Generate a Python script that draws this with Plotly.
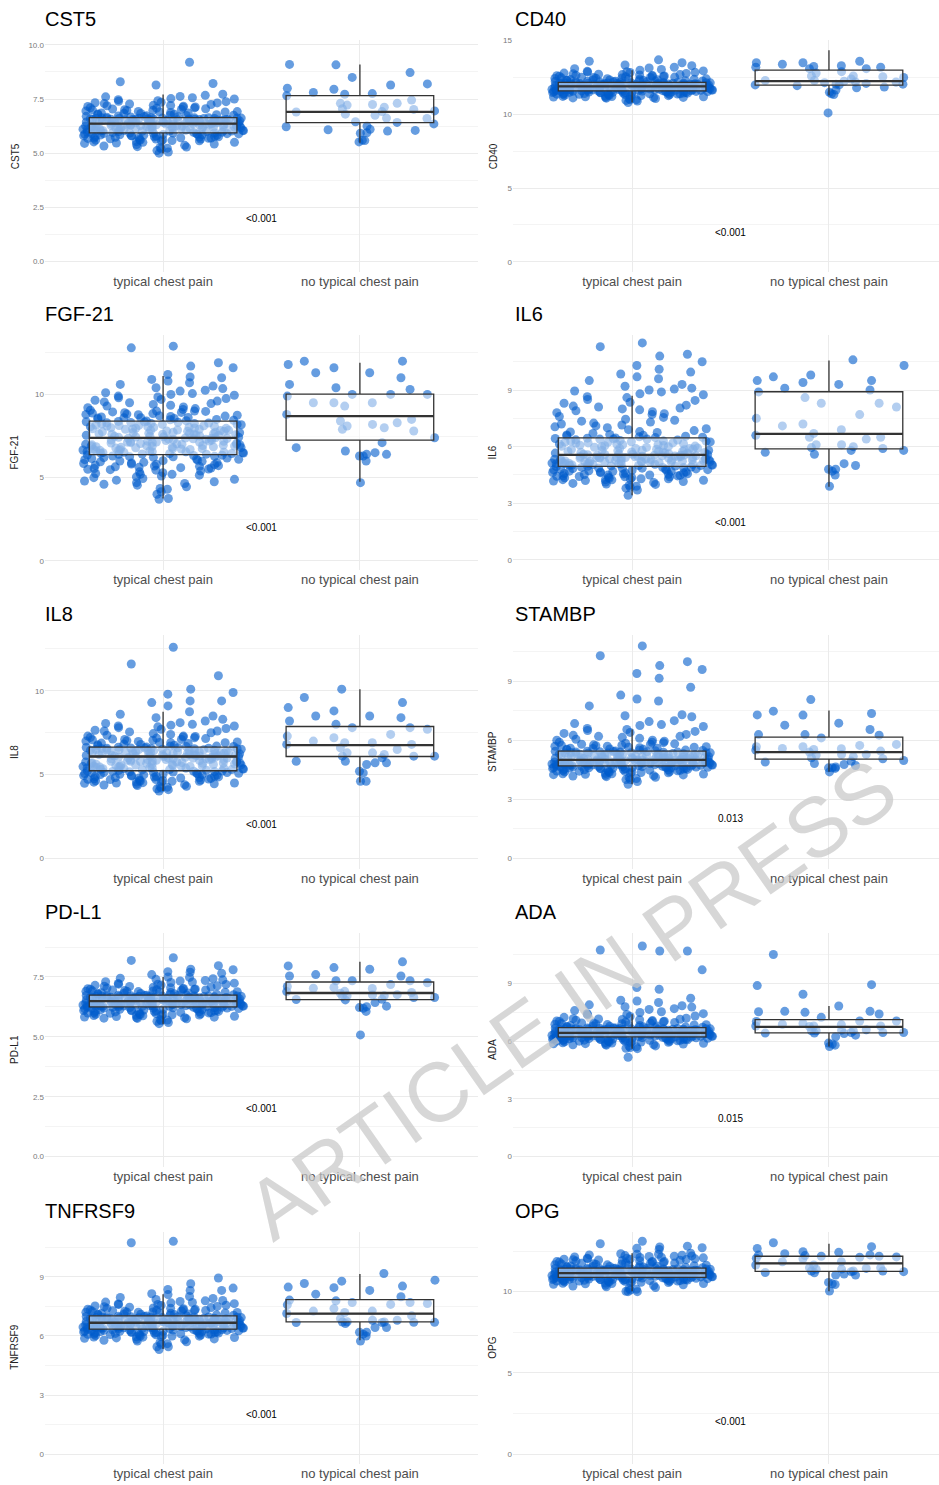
import plotly.graph_objects as go

CATS = ["typical chest pain", "no typical chest pain"]
MARKERS = ["CST5", "CD40", "FGF-21", "IL6", "IL8", "STAMBP", "PD-L1", "ADA", "TNFRSF9", "OPG"]
P_VALUES = ["<0.001", "<0.001", "<0.001", "<0.001", "<0.001", "0.013", "<0.001", "0.015", "<0.001", "<0.001"]

CST5_TYPICAL = [
    5.0, 5.05, 5.2, 5.23, 5.28, 5.3, 5.36, 5.4, 5.42, 5.47, 5.5, 5.53, 5.56, 5.58, 5.6, 5.63, 5.66, 5.68, 5.7, 5.72,
    5.74, 5.77, 5.78, 5.8, 5.82, 5.84, 5.86, 5.88, 5.9, 5.91, 5.93, 5.94,
    5.96, 5.98, 6.0, 6.02, 6.04, 6.05, 6.07, 6.09, 6.1, 6.12, 6.14, 6.15, 6.17, 6.19, 6.2, 6.22, 6.23, 6.25, 6.26, 6.28,
    6.29, 6.3, 6.32, 6.33, 6.34, 6.35, 6.36, 6.37, 6.38, 6.39, 6.4, 6.41, 6.42, 6.43, 6.44, 6.45, 6.46, 6.47, 6.48, 6.49,
    6.5, 6.51, 6.52, 6.53, 6.54, 6.55, 6.56, 6.57, 6.58, 6.58, 6.59, 6.6, 6.6, 6.61, 6.62, 6.62, 6.63, 6.64, 6.11, 6.27,
    6.31, 6.45, 6.5, 6.55, 6.2, 6.38,
    6.66, 6.69, 6.72, 6.75, 6.78, 6.81, 6.85, 6.88, 6.91, 6.95, 6.98, 7.02, 7.05, 7.09, 7.13, 7.17, 7.2, 7.25, 7.29, 7.33,
    7.38, 7.42, 7.47, 7.52, 7.56, 7.62, 7.67, 7.72, 8.15, 8.22, 8.3, 9.2,
    5.12, 5.26, 5.33, 5.45, 5.52, 5.57, 5.62, 5.65, 5.69, 5.71, 5.73, 5.76, 5.79, 5.81, 5.83, 5.85, 5.87, 5.89, 5.9,
    5.92, 5.93, 5.95, 5.6, 5.75, 5.5, 5.85, 5.7, 5.8, 5.9, 5.65,
    5.97, 6.01, 6.03, 6.06, 6.08, 6.11, 6.13, 6.16, 6.18, 6.21, 6.24, 6.27, 6.3, 6.33, 6.36, 6.39, 6.42, 6.45, 6.48,
    6.51, 6.54, 6.57, 6.6, 6.63, 6.0, 6.05, 6.1, 6.15, 6.2, 6.25, 6.3, 6.35, 6.4, 6.45, 6.5, 6.55, 6.6, 6.62, 6.02,
    6.08, 6.14, 6.22, 6.28, 6.34, 6.4, 6.46, 6.52, 6.58, 6.64, 6.04, 6.16, 6.26, 6.36, 6.44, 6.54, 6.61, 6.19, 6.31,
    6.43, 6.56,
    6.67, 6.7, 6.73, 6.76, 6.8, 6.83, 6.86, 6.9, 6.93, 6.97, 7.0, 7.04, 7.08, 7.12, 7.16, 7.21, 7.27, 7.32, 7.4, 7.5,
    6.68, 6.74, 6.79, 6.84, 6.92, 7.01, 7.1, 7.19, 7.35, 7.6]
CST5_NO_TYPICAL = [
    8.2, 9.08, 7.72, 7.75, 7.65, 7.02, 6.1, 6.02, 5.92, 5.94, 6.08, 5.6, 6.9, 6.95, 6.62, 7.05, 6.75, 6.45, 7.95, 8.15,
    7.25, 7.45, 6.22, 6.42, 6.25, 7.3, 7.3, 7.22, 7.12, 7.8, 6.6, 6.35, 6.05, 5.52, 5.58, 8.72, 8.5, 8.0, 9.1, 6.92, 6.8]

CD40_TYPICAL = [
    10.8, 10.9, 10.95, 11.0, 11.05, 11.1, 11.12, 11.15, 11.18, 11.2, 11.22, 11.25, 11.27, 11.3, 11.32, 11.34, 11.36,
    11.38, 11.4, 11.42, 11.44, 11.45, 11.47, 11.48, 11.5, 11.52, 11.53, 11.55, 11.56, 11.57, 11.58, 11.6,
    11.61, 11.62, 11.63, 11.64, 11.65, 11.66, 11.67, 11.68, 11.69, 11.7, 11.71, 11.72, 11.73, 11.74, 11.75, 11.76, 11.77,
    11.78, 11.79, 11.8, 11.81, 11.82, 11.83, 11.84, 11.85, 11.86, 11.87, 11.88, 11.89, 11.9, 11.9, 11.91, 11.92, 11.93,
    11.94, 11.95, 11.96, 11.97, 11.98, 11.99, 12.0, 12.01, 12.02, 12.03, 12.04, 12.05, 12.06, 12.07, 12.08, 12.09, 12.1,
    12.11, 12.12, 12.13, 12.14, 12.15, 12.16, 12.17, 11.7, 11.8, 11.85, 11.95, 12.0, 12.05, 11.65, 12.1,
    12.19, 12.21, 12.23, 12.25, 12.28, 12.3, 12.32, 12.35, 12.38, 12.4, 12.43, 12.46, 12.5, 12.53, 12.57, 12.6, 12.63,
    12.67, 12.7, 12.75, 12.8, 12.85, 12.9, 12.95, 13.0, 13.1, 13.2, 13.3, 13.35, 13.5, 13.6, 13.7,
    11.08, 11.14, 11.21, 11.28, 11.33, 11.37, 11.41, 11.43, 11.46, 11.49, 11.51, 11.54, 11.56, 11.58, 11.59, 11.2,
    11.3, 11.4, 11.45, 11.5, 11.55, 11.35, 11.25, 11.48, 11.52, 11.57, 11.44, 11.38, 11.0, 11.15,
    11.62, 11.64, 11.66, 11.68, 11.7, 11.72, 11.74, 11.76, 11.78, 11.8, 11.82, 11.84, 11.86, 11.88, 11.9, 11.92,
    11.94, 11.96, 11.98, 12.0, 12.02, 12.04, 12.06, 12.08, 12.1, 12.12, 12.14, 12.16, 11.63, 11.67, 11.71, 11.75,
    11.79, 11.83, 11.87, 11.91, 11.95, 11.99, 12.03, 12.07, 12.11, 12.15, 11.65, 11.73, 11.81, 11.89, 11.97, 12.05,
    12.13, 11.69, 11.77, 11.85, 11.93, 12.01, 12.09, 11.61, 11.9, 12.0, 11.8, 11.7,
    12.2, 12.22, 12.24, 12.27, 12.29, 12.31, 12.34, 12.36, 12.39, 12.42, 12.45, 12.48, 12.52, 12.55, 12.58, 12.62,
    12.66, 12.72, 12.78, 12.84, 12.92, 13.05, 13.15, 12.26, 12.33, 12.41, 12.5, 12.6, 12.7, 12.88]
CD40_NO_TYPICAL = [
    12.8, 10.1, 12.5, 12.6, 12.2, 12.3, 11.85, 11.8, 12.0, 12.1, 11.65, 11.5, 11.4, 11.95, 13.1, 13.2, 12.9, 11.35,
    12.25, 12.55, 12.05, 13.6, 13.5, 13.3, 12.6, 12.3, 12.2, 13.4, 13.25, 13.5, 13.1, 12.4, 12.05, 12.0, 13.2, 12.15]

FGF21_TYPICAL = [
    3.7, 3.75, 4.0, 4.15, 4.35, 4.45, 4.6, 4.65, 4.7, 4.8, 4.9, 5.0, 5.1, 5.2, 5.25, 5.35, 5.45, 5.5, 5.55, 5.6, 5.65,
    5.7, 5.75, 5.8, 5.85, 5.9, 5.95, 6.0, 6.05, 6.1, 6.15, 6.2, 6.25, 6.3, 6.35,
    6.4, 6.42, 6.45, 6.48, 6.5, 6.53, 6.56, 6.6, 6.63, 6.66, 6.7, 6.72, 6.75, 6.78, 6.8, 6.83, 6.86, 6.9, 6.93, 6.96,
    7.0, 7.03, 7.06, 7.1, 7.13, 7.16, 7.2, 7.23, 7.26, 7.3, 7.33, 7.36, 7.38, 7.4, 7.42, 7.45, 7.48, 7.5, 7.53, 7.56,
    7.6, 7.63, 7.66, 7.7, 7.72, 7.75, 7.78, 7.8, 7.83, 7.86, 7.9, 7.93, 7.96, 8.0, 8.03, 8.06, 8.1, 8.13, 8.16, 8.2,
    8.23, 8.26, 8.3, 8.33, 8.36, 8.4, 7.1, 7.6, 6.9, 8.05,
    8.45, 8.5, 8.55, 8.6, 8.65, 8.7, 8.75, 8.8, 8.85, 8.9, 8.95, 9.0, 9.1, 9.2, 9.3, 9.4, 9.5, 9.6, 9.7, 9.8, 9.9,
    10.0, 10.1, 10.25, 10.4, 10.5, 10.7, 10.9, 11.0, 11.2, 11.6, 11.7, 11.9, 12.8, 12.9,
    4.3, 4.55, 4.75, 4.95, 5.05, 5.15, 5.3, 5.4, 5.48, 5.58, 5.68, 5.78, 5.88, 5.98, 6.08, 6.18, 6.28, 6.33, 5.2,
    5.62, 5.92, 6.12, 6.22, 4.85, 5.72, 6.02, 6.26, 5.52, 5.82, 6.36,
    6.41, 6.47, 6.52, 6.58, 6.64, 6.69, 6.74, 6.79, 6.85, 6.91, 6.97, 7.02, 7.08, 7.14, 7.19, 7.25, 7.31, 7.37, 7.43,
    7.49, 7.55, 7.61, 7.67, 7.73, 7.79, 7.85, 7.91, 7.97, 8.02, 8.08, 8.14, 8.2, 8.26, 8.32, 8.38, 6.44, 6.55, 6.68,
    6.82, 6.95, 7.05, 7.18, 7.28, 7.44, 7.58, 7.7, 7.84, 7.98, 8.12, 8.28, 6.62, 6.88, 7.12, 7.35, 7.64, 7.92, 8.18,
    8.35, 6.5, 7.0,
    8.42, 8.48, 8.52, 8.58, 8.62, 8.68, 8.72, 8.78, 8.82, 8.88, 8.92, 8.98, 9.05, 9.15, 9.25, 9.35, 9.45, 9.55, 9.65,
    9.75, 9.85, 9.95, 10.05, 10.2, 10.35, 10.6, 10.8, 11.05, 8.6, 9.0]
FGF21_NO_TYPICAL = [
    11.3, 11.6, 9.5, 10.3, 8.8, 8.1, 7.4, 6.4, 6.3, 6.6, 11.8, 11.3, 10.4, 10.6, 10.0, 9.5, 7.1, 8.2, 7.8, 6.5, 9.9,
    11.0, 9.5, 8.3, 6.4, 12.0, 12.0, 9.3, 8.4, 6.0, 4.7, 8.0, 10.0, 8.5, 6.8, 6.3, 10.0, 7.9]

IL6_TYPICAL = [
    3.42, 3.7, 3.8, 3.85, 3.95, 4.0, 4.05, 4.1, 4.15, 4.2, 4.22, 4.25, 4.28, 4.3, 4.35, 4.38, 4.4, 4.43, 4.46, 4.5,
    4.52, 4.55, 4.58, 4.6, 4.63, 4.66, 4.7, 4.72, 4.75, 4.78, 4.8, 4.84, 4.87, 4.9, 4.94,
    4.96, 4.98, 5.0, 5.02, 5.04, 5.06, 5.08, 5.1, 5.12, 5.14, 5.16, 5.18, 5.2, 5.22, 5.24, 5.26, 5.28, 5.3, 5.32, 5.34,
    5.36, 5.38, 5.4, 5.42, 5.44, 5.46, 5.48, 5.5, 5.52, 5.54, 5.56, 5.58, 5.6, 5.63, 5.66, 5.69, 5.72, 5.75, 5.78, 5.81,
    5.84, 5.87, 5.9, 5.93, 5.96, 6.0, 6.03, 6.06, 6.1, 6.13, 6.16, 6.2, 6.23, 6.26, 6.3, 6.33, 6.36, 6.4, 6.43, 6.46,
    5.05, 5.25, 5.45, 5.65, 5.85, 6.05, 6.25, 5.15, 5.35, 5.55,
    6.5, 6.55, 6.6, 6.7, 6.8, 6.9, 7.0, 7.1, 7.2, 7.3, 7.45, 7.6, 7.75, 7.9, 8.0, 8.1, 8.2, 8.35, 8.5, 8.65, 8.8, 8.9,
    9.0, 9.1, 9.2, 9.5, 9.7, 9.95, 10.1, 10.3, 10.5, 10.8, 10.9, 11.3, 11.5,
    3.9, 4.02, 4.12, 4.18, 4.24, 4.32, 4.36, 4.42, 4.48, 4.54, 4.56, 4.62, 4.65, 4.68, 4.74, 4.77, 4.82, 4.86, 4.89,
    4.92, 4.3, 4.4, 4.5, 4.6, 4.7, 4.8, 4.9, 4.25, 4.45, 4.85,
    4.97, 5.01, 5.03, 5.07, 5.09, 5.11, 5.13, 5.17, 5.19, 5.21, 5.23, 5.27, 5.29, 5.31, 5.33, 5.37, 5.39, 5.41, 5.43,
    5.47, 5.49, 5.51, 5.53, 5.57, 5.59, 5.62, 5.67, 5.71, 5.76, 5.8, 5.86, 5.91, 5.97, 6.02, 6.08, 6.14, 6.19, 6.24,
    6.29, 6.35, 6.41, 6.45, 5.0, 5.1, 5.2, 5.3, 5.4, 5.5, 5.6, 5.7, 5.8, 5.9, 6.0, 6.1, 6.2, 6.3, 6.4, 5.22, 5.44, 5.74,
    6.48, 6.52, 6.58, 6.65, 6.75, 6.85, 6.95, 7.05, 7.15, 7.25, 7.4, 7.55, 7.7, 7.85, 7.95, 8.05, 8.15, 8.3, 8.45,
    8.6, 8.75, 8.95, 9.05, 9.3, 9.6, 9.85, 6.62, 6.78, 7.35, 7.8]
IL6_NO_TYPICAL = [
    9.8, 9.1, 8.3, 7.5, 7.2, 6.6, 6.7, 6.5, 6.1, 5.95, 5.8, 5.0, 4.8, 6.9, 6.5, 6.1, 4.8, 4.5, 5.7, 9.5, 9.3, 8.6,
    3.9, 9.4, 5.8, 9.5, 9.7, 10.6, 8.3, 8.1, 5.6, 6.0, 5.1, 9.0, 8.9, 7.7, 6.4, 4.7, 5.9, 10.3, 7.1]

IL8_TYPICAL = [
    4.02, 4.15, 4.2, 4.25, 4.3, 4.35, 4.4, 4.45, 4.5, 4.52, 4.55, 4.58, 4.6, 4.63, 4.66, 4.7, 4.72, 4.75, 4.78, 4.8,
    4.83, 4.86, 4.9, 4.92, 4.95, 4.98, 5.0, 5.03, 5.06, 5.09, 5.12, 5.15, 5.18, 5.2, 5.22,
    5.25, 5.28, 5.3, 5.33, 5.36, 5.39, 5.42, 5.45, 5.48, 5.51, 5.54, 5.57, 5.6, 5.63, 5.66, 5.69, 5.72, 5.75, 5.78,
    5.81, 5.84, 5.87, 5.9, 5.93, 5.96, 5.99, 6.02, 6.05, 6.08, 6.1, 6.12, 6.14, 6.16, 6.18, 6.2, 6.22, 6.24, 6.26,
    6.28, 6.3, 6.32, 6.34, 6.36, 6.38, 6.4, 6.42, 6.44, 6.46, 6.48, 6.5, 6.52, 6.54, 6.56, 6.58, 6.6, 6.62, 6.64,
    5.35, 5.55, 5.75, 5.95, 6.15, 6.35, 6.55, 5.45, 5.65, 5.85, 6.05, 6.25, 6.45,
    6.67, 6.7, 6.75, 6.8, 6.85, 6.9, 6.95, 7.0, 7.05, 7.1, 7.15, 7.2, 7.25, 7.3, 7.4, 7.5, 7.6, 7.7, 7.8, 7.9, 8.0,
    8.1, 8.3, 8.6, 8.75, 9.1, 9.3, 9.4, 9.4, 9.8, 9.9, 10.1, 10.9, 11.6, 12.6,
    4.1, 4.28, 4.38, 4.42, 4.48, 4.56, 4.62, 4.68, 4.74, 4.82, 4.88, 4.94, 4.97, 5.02, 5.05, 5.08, 5.1, 5.14, 5.17,
    5.21, 4.5, 4.6, 4.7, 4.8, 4.9, 5.0, 5.12, 4.65, 4.85, 5.19,
    5.26, 5.31, 5.35, 5.4, 5.44, 5.49, 5.53, 5.58, 5.62, 5.67, 5.71, 5.76, 5.8, 5.85, 5.89, 5.94, 5.98, 6.03, 6.07,
    6.11, 6.15, 6.19, 6.23, 6.27, 6.31, 6.35, 6.39, 6.43, 6.47, 6.51, 6.55, 6.59, 6.63, 5.3, 5.4, 5.5, 5.6, 5.7, 5.8,
    5.9, 6.0, 6.1, 6.2, 6.3, 6.4, 6.5, 6.6, 5.38, 5.58, 5.78, 5.98, 6.18, 6.38, 6.58, 5.48, 5.68, 5.88, 6.08, 6.28, 6.48,
    6.68, 6.72, 6.78, 6.82, 6.88, 6.92, 6.98, 7.02, 7.08, 7.12, 7.18, 7.22, 7.28, 7.35, 7.45, 7.55, 7.65, 7.75, 7.85,
    7.95, 8.05, 8.2, 8.4, 6.7, 6.9, 7.1, 7.3, 7.6, 7.9, 8.5]
IL8_NO_TYPICAL = [
    10.1, 9.3, 8.8, 8.4, 8.0, 7.8, 7.3, 6.3, 5.7, 5.2, 4.6, 4.6, 5.1, 8.5, 8.2, 9.6, 7.4, 7.0, 6.9, 6.6, 6.1, 5.7,
    5.8, 8.5, 7.7, 6.5, 6.0, 5.6, 6.1, 5.8, 7.8, 6.8, 6.8, 7.2, 6.3, 6.1, 9.0, 6.9, 6.2]

STAMBP_TYPICAL = [
    3.76, 3.9, 4.0, 4.05, 4.1, 4.15, 4.2, 4.22, 4.25, 4.28, 4.3, 4.32, 4.35, 4.37, 4.4, 4.42, 4.44, 4.46, 4.48, 4.5,
    4.52, 4.54, 4.56, 4.57, 4.58, 4.6, 4.61, 4.62, 4.63, 4.64, 4.65, 4.66, 4.67, 4.68, 4.69,
    4.71, 4.72, 4.73, 4.74, 4.75, 4.76, 4.77, 4.78, 4.79, 4.8, 4.81, 4.82, 4.83, 4.84, 4.85, 4.86, 4.87, 4.88, 4.89,
    4.9, 4.91, 4.92, 4.93, 4.94, 4.95, 4.96, 4.97, 4.98, 4.99, 5.0, 5.02, 5.04, 5.06, 5.08, 5.1, 5.12, 5.14, 5.16,
    5.18, 5.2, 5.22, 5.24, 5.26, 5.28, 5.3, 5.32, 5.34, 5.36, 5.38, 5.4, 5.42, 5.44, 4.75, 4.85, 4.95, 5.05, 5.15,
    5.25, 5.35, 4.8, 4.9, 5.0, 5.1, 5.2, 5.3, 5.4, 4.78, 4.88, 4.98, 5.08,
    5.48, 5.52, 5.56, 5.6, 5.65, 5.7, 5.75, 5.8, 5.85, 5.9, 6.0, 6.1, 6.2, 6.35, 6.5, 6.6, 6.75, 6.8, 6.95, 7.0, 7.2,
    7.25, 7.3, 7.75, 8.0, 8.1, 8.3, 8.7, 9.15, 9.4, 9.6, 9.8, 10.0, 10.3, 10.8,
    4.0, 4.12, 4.18, 4.24, 4.27, 4.33, 4.36, 4.39, 4.41, 4.43, 4.45, 4.47, 4.49, 4.51, 4.53, 4.55, 4.57, 4.59, 4.6,
    4.62, 4.64, 4.66, 4.68, 4.3, 4.4, 4.5, 4.58, 4.63, 4.67, 4.69,
    4.7, 4.72, 4.74, 4.76, 4.78, 4.8, 4.82, 4.84, 4.86, 4.88, 4.9, 4.92, 4.94, 4.96, 4.98, 5.0, 5.01, 5.03, 5.05,
    5.07, 5.09, 5.11, 5.13, 5.15, 5.17, 5.19, 5.21, 5.23, 5.25, 5.27, 5.29, 5.31, 5.33, 5.35, 5.37, 5.39, 5.41, 5.43,
    5.45, 4.73, 4.77, 4.81, 4.85, 4.89, 4.93, 4.97, 5.02, 5.07, 5.12, 5.17, 5.22, 5.27, 5.32, 5.37, 5.42, 4.87, 4.99,
    5.14, 5.29, 5.44,
    5.47, 5.5, 5.54, 5.58, 5.62, 5.67, 5.72, 5.77, 5.82, 5.88, 5.95, 6.05, 6.15, 6.25, 6.4, 6.55, 6.7, 6.85, 5.5, 5.6,
    5.7, 5.8, 5.9, 6.0, 6.3, 6.45, 5.55, 5.65, 5.75, 6.2]
STAMBP_NO_TYPICAL = [
    6.29, 6.55, 6.77, 7.28, 7.48, 6.87, 8.07, 7.29, 7.36, 6.29, 6.12, 6.26, 5.74, 5.67, 5.79, 5.67, 5.58, 5.28, 5.06,
    4.6, 4.72, 4.57, 4.39, 4.6, 4.89, 4.82, 4.77, 4.94, 4.97, 4.64, 5.11, 5.4, 5.57, 5.53, 5.45, 5.25, 5.17, 5.28, 5.5]

PDL1_TYPICAL = [
    5.55, 5.6, 5.65, 5.68, 5.72, 5.75, 5.78, 5.8, 5.83, 5.86, 5.88, 5.9, 5.92, 5.94, 5.96, 5.98, 6.0, 6.02, 6.04, 6.05,
    6.07, 6.08, 6.1, 6.11, 6.12, 6.14, 6.15, 6.16, 6.18, 6.19, 6.2, 6.21, 6.22, 6.23, 6.24,
    6.26, 6.27, 6.28, 6.29, 6.3, 6.31, 6.32, 6.33, 6.34, 6.35, 6.36, 6.37, 6.38, 6.39, 6.4, 6.41, 6.42, 6.43, 6.44,
    6.45, 6.46, 6.47, 6.48, 6.49, 6.5, 6.51, 6.52, 6.53, 6.54, 6.55, 6.56, 6.57, 6.58, 6.59, 6.6, 6.61, 6.62, 6.63,
    6.64, 6.65, 6.66, 6.67, 6.68, 6.69, 6.7, 6.71, 6.72, 6.73, 6.74, 6.3, 6.35, 6.4, 6.45, 6.5, 6.55, 6.6, 6.65, 6.7,
    6.28, 6.38, 6.48, 6.58, 6.68, 6.33, 6.43, 6.53, 6.63, 6.73, 6.47, 6.52,
    6.76, 6.78, 6.8, 6.82, 6.84, 6.86, 6.88, 6.9, 6.92, 6.94, 6.96, 6.98, 7.0, 7.02, 7.05, 7.08, 7.1, 7.13, 7.16, 7.2,
    7.23, 7.27, 7.3, 7.35, 7.4, 7.45, 7.5, 7.65, 7.7, 7.72, 7.8, 7.82, 7.97, 8.19, 8.3,
    5.7, 5.77, 5.82, 5.85, 5.89, 5.91, 5.93, 5.95, 5.97, 5.99, 6.01, 6.03, 6.06, 6.09, 6.13, 6.17, 6.2, 6.22, 6.24,
    5.9, 6.0, 6.1, 6.15, 6.2, 6.05, 6.12, 6.18, 6.23, 5.95, 5.8,
    6.25, 6.27, 6.29, 6.31, 6.33, 6.35, 6.37, 6.39, 6.41, 6.43, 6.45, 6.47, 6.49, 6.51, 6.53, 6.55, 6.57, 6.59, 6.61,
    6.63, 6.65, 6.67, 6.69, 6.71, 6.73, 6.26, 6.3, 6.34, 6.38, 6.42, 6.46, 6.5, 6.54, 6.58, 6.62, 6.66, 6.7, 6.74,
    6.28, 6.36, 6.44, 6.52, 6.6, 6.68, 6.32, 6.4, 6.48, 6.56, 6.64, 6.72, 6.35, 6.45, 6.55, 6.65, 6.4, 6.5, 6.6, 6.3,
    6.7, 6.5,
    6.75, 6.77, 6.79, 6.81, 6.83, 6.85, 6.87, 6.89, 6.91, 6.93, 6.95, 6.97, 6.99, 7.01, 7.04, 7.07, 7.11, 7.15, 7.19,
    7.24, 7.29, 7.33, 7.38, 7.43, 7.48, 6.8, 6.9, 7.0, 7.2, 7.6]
PDL1_NO_TYPICAL = [
    6.06, 6.57, 6.26, 7.03, 7.82, 7.54, 7.34, 7.18, 7.06, 7.89, 6.89, 6.71, 6.75, 6.64, 5.08, 6.64, 6.82, 6.56, 7.54,
    8.13, 6.28, 7.26, 6.85, 6.76, 6.19, 7.02, 7.34, 7.6, 6.54, 6.22, 7.34, 6.9, 6.69, 7.96, 7.1, 6.43, 6.71]

ADA_TYPICAL = [
    5.17, 5.62, 5.64, 5.67, 5.72, 5.76, 5.8, 5.83, 5.86, 5.88, 5.9, 5.92, 5.94, 5.96, 5.98, 6.0, 6.01, 6.02, 6.04,
    6.05, 6.06, 6.08, 6.09, 6.1, 6.11, 6.12, 6.13, 6.14, 6.15, 6.16, 6.17, 6.18, 6.19, 6.2, 6.22,
    6.24, 6.25, 6.26, 6.27, 6.28, 6.29, 6.3, 6.31, 6.32, 6.33, 6.34, 6.35, 6.36, 6.37, 6.38, 6.39, 6.4, 6.41, 6.42,
    6.43, 6.44, 6.45, 6.46, 6.47, 6.48, 6.49, 6.5, 6.51, 6.52, 6.53, 6.54, 6.55, 6.56, 6.57, 6.58, 6.59, 6.6, 6.61,
    6.62, 6.63, 6.64, 6.65, 6.66, 6.67, 6.68, 6.69, 6.7, 6.3, 6.35, 6.4, 6.45, 6.5, 6.55, 6.6, 6.65, 6.28, 6.38, 6.48,
    6.58, 6.68, 6.33, 6.43, 6.53, 6.63, 6.42, 6.44, 6.46, 6.36, 6.26, 6.56,
    6.73, 6.75, 6.77, 6.8, 6.82, 6.85, 6.87, 6.9, 6.93, 6.96, 7.0, 7.03, 7.06, 7.1, 7.14, 7.18, 7.29, 7.44, 7.44,
    7.54, 7.66, 7.78, 7.8, 7.9, 8.02, 8.1, 8.14, 8.24, 8.71, 8.8, 9.72, 10.7, 10.7, 10.75, 10.96,
    5.75, 5.82, 5.87, 5.91, 5.95, 5.97, 5.99, 6.01, 6.03, 6.05, 6.07, 6.09, 6.11, 6.13, 6.15, 6.17, 6.19, 6.21, 6.22,
    6.0, 6.1, 6.2, 6.05, 6.15, 5.93, 6.12, 6.18, 5.85, 6.08, 6.2,
    6.24, 6.26, 6.28, 6.3, 6.32, 6.34, 6.36, 6.38, 6.4, 6.42, 6.44, 6.46, 6.48, 6.5, 6.52, 6.54, 6.56, 6.58, 6.6,
    6.62, 6.64, 6.66, 6.68, 6.7, 6.25, 6.29, 6.33, 6.37, 6.41, 6.45, 6.49, 6.53, 6.57, 6.61, 6.65, 6.69, 6.27, 6.35,
    6.43, 6.51, 6.59, 6.67, 6.31, 6.39, 6.47, 6.55, 6.63, 6.4, 6.5, 6.6, 6.3, 6.45, 6.55, 6.35, 6.65, 6.44, 6.42,
    6.46, 6.38, 6.52,
    6.72, 6.74, 6.76, 6.78, 6.8, 6.83, 6.86, 6.89, 6.92, 6.95, 6.98, 7.02, 7.05, 7.08, 7.12, 7.16, 7.2, 7.25, 7.32,
    7.38, 6.75, 6.85, 6.95, 7.05, 7.15, 7.4, 7.5, 7.6, 7.7, 7.85]
ADA_NO_TYPICAL = [
    10.52, 8.45, 7.54, 6.43, 6.32, 5.8, 6.93, 6.46, 6.77, 6.55, 6.89, 5.73, 6.8, 7.06, 6.55, 7.51, 7.56, 6.41, 7.42,
    6.8, 7.84, 6.43, 5.86, 6.6, 7.56, 7.25, 6.8, 6.87, 8.9, 6.24, 6.46, 7.03, 5.91, 6.46, 8.95, 6.58, 6.55, 7.06]

TNFRSF9_TYPICAL = [
    5.31, 5.45, 5.45, 5.58, 5.61, 5.68, 5.74, 5.8, 5.85, 5.9, 5.94, 5.97, 6.0, 6.03, 6.06, 6.08, 6.1, 6.12, 6.14,
    6.16, 6.18, 6.2, 6.21, 6.22, 6.23, 6.24, 6.25, 6.26, 6.27, 6.28, 6.29, 6.3, 6.31, 6.32, 6.34,
    6.36, 6.37, 6.38, 6.4, 6.41, 6.42, 6.44, 6.45, 6.46, 6.48, 6.49, 6.5, 6.52, 6.53, 6.54, 6.56, 6.57, 6.58, 6.6,
    6.61, 6.62, 6.64, 6.65, 6.66, 6.67, 6.68, 6.7, 6.71, 6.72, 6.74, 6.75, 6.77, 6.78, 6.8, 6.81, 6.83, 6.84, 6.86,
    6.87, 6.89, 6.9, 6.92, 6.93, 6.95, 6.96, 6.98, 6.99, 7.01, 6.4, 6.45, 6.5, 6.55, 6.6, 6.65, 6.7, 6.75, 6.8, 6.85,
    6.9, 6.95, 6.43, 6.53, 6.63, 6.73, 6.83, 6.93, 6.58, 6.68, 6.78, 6.88,
    10.8, 7.06, 7.08, 7.1, 7.12, 7.15, 7.18, 7.2, 7.22, 7.25, 7.28, 7.3, 7.33, 7.36, 7.4, 7.44, 7.48, 7.52, 7.56, 7.6,
    7.64, 7.68, 7.72, 7.78, 7.85, 7.95, 8.1, 8.14, 8.31, 8.31, 8.36, 8.43, 8.65, 8.94, 10.73,
    5.7, 5.78, 5.83, 5.88, 5.92, 5.96, 5.99, 6.02, 6.05, 6.07, 6.09, 6.11, 6.13, 6.15, 6.17, 6.19, 6.22, 6.24, 6.26,
    6.28, 6.3, 6.33, 6.0, 6.1, 6.2, 6.3, 6.15, 6.25, 5.95, 6.05,
    6.36, 6.39, 6.42, 6.45, 6.48, 6.51, 6.54, 6.57, 6.6, 6.63, 6.66, 6.69, 6.72, 6.75, 6.78, 6.81, 6.84, 6.87, 6.9,
    6.93, 6.96, 6.99, 7.0, 6.38, 6.44, 6.5, 6.56, 6.62, 6.68, 6.74, 6.8, 6.86, 6.92, 6.98, 6.41, 6.47, 6.53, 6.59,
    6.65, 6.71, 6.77, 6.83, 6.89, 6.95, 6.4, 6.5, 6.6, 6.7, 6.8, 6.9, 6.46, 6.56, 6.66, 6.76, 6.86, 6.96, 6.55, 6.65,
    6.75, 6.85,
    7.03, 7.05, 7.07, 7.09, 7.11, 7.14, 7.17, 7.19, 7.21, 7.24, 7.27, 7.29, 7.32, 7.35, 7.38, 7.42, 7.46, 7.5, 7.55,
    7.62, 7.7, 7.8, 7.9, 8.0, 7.1, 7.2, 7.3, 7.4, 7.6, 7.75]
TNFRSF9_NO_TYPICAL = [
    8.83, 8.78, 8.66, 9.17, 7.19, 6.63, 6.71, 6.0, 5.74, 7.7, 7.39, 7.26, 8.12, 6.8, 7.78, 7.02, 6.43, 7.82, 6.8,
    6.72, 6.09, 8.53, 7.7, 6.68, 6.19, 7.26, 6.43, 6.68, 7.6, 7.99, 6.88, 6.71, 8.31, 8.48, 6.69, 8.45, 6.19, 7.58,
    7.14, 6.69, 7.65]

OPG_TYPICAL = [
    10.0, 10.0, 10.02, 10.1, 10.2, 10.3, 10.35, 10.4, 10.45, 10.5, 10.53, 10.56, 10.6, 10.62, 10.64, 10.66, 10.68,
    10.7, 10.71, 10.72, 10.73, 10.74, 10.75, 10.76, 10.77, 10.78, 10.79, 10.8, 10.81, 10.82, 10.83, 10.84, 10.85,
    10.86, 10.87,
    10.89, 10.9, 10.91, 10.92, 10.94, 10.95, 10.96, 10.98, 10.99, 11.0, 11.01, 11.03, 11.04, 11.05, 11.07, 11.08,
    11.09, 11.1, 11.11, 11.12, 11.13, 11.14, 11.15, 11.16, 11.17, 11.18, 11.19, 11.2, 11.22, 11.23, 11.24, 11.26,
    11.27, 11.28, 11.3, 11.31, 11.32, 11.34, 11.35, 11.36, 11.38, 11.39, 11.4, 11.42, 11.43, 11.44, 10.95, 11.0,
    11.05, 11.1, 11.15, 11.2, 11.25, 11.3, 11.35, 11.4, 10.93, 11.03, 11.13, 11.23, 11.33, 11.43, 11.08, 11.18,
    11.28, 11.38, 11.12, 11.16, 11.21, 11.06,
    11.47, 11.5, 11.52, 11.55, 11.58, 11.6, 11.63, 11.66, 11.7, 11.73, 11.76, 11.8, 11.83, 11.86, 11.9, 11.93,
    11.96, 12.0, 12.03, 12.06, 12.1, 12.14, 12.18, 12.22, 12.26, 12.3, 12.33, 12.37, 12.6, 12.67, 12.7, 12.75,
    12.8, 12.95, 13.1,
    10.15, 10.25, 10.38, 10.42, 10.48, 10.52, 10.55, 10.58, 10.61, 10.63, 10.65, 10.67, 10.69, 10.7, 10.72, 10.74,
    10.76, 10.78, 10.8, 10.82, 10.84, 10.86, 10.88, 10.5, 10.6, 10.7, 10.8, 10.65, 10.75, 10.85,
    10.9, 10.93, 10.96, 10.99, 11.02, 11.05, 11.08, 11.11, 11.14, 11.17, 11.2, 11.23, 11.26, 11.29, 11.32, 11.35,
    11.38, 11.41, 11.44, 10.91, 10.97, 11.03, 11.09, 11.15, 11.21, 11.27, 11.33, 11.39, 10.94, 11.0, 11.06, 11.12,
    11.18, 11.24, 11.3, 11.36, 11.42, 10.92, 11.01, 11.1, 11.19, 11.28, 11.37, 10.98, 11.07, 11.16, 11.25, 11.34,
    11.43, 11.04, 11.13, 11.22, 11.31, 11.4, 11.0, 11.1, 11.2, 11.3, 11.14, 11.24,
    11.46, 11.48, 11.51, 11.54, 11.57, 11.6, 11.62, 11.65, 11.68, 11.72, 11.75, 11.78, 11.82, 11.85, 11.88, 11.92,
    11.95, 11.98, 12.02, 12.05, 12.08, 12.12, 12.16, 12.2, 12.24, 11.55, 11.7, 11.85, 12.0, 12.3]
OPG_NO_TYPICAL = [
    12.18, 12.18, 10.48, 11.38, 11.23, 11.23, 11.64, 11.47, 11.08, 12.12, 10.44, 12.22, 11.47, 11.27, 10.57, 12.33,
    12.02, 11.02, 11.43, 12.66, 12.46, 11.84, 11.16, 12.77, 11.64, 11.39, 10.04, 11.27, 12.06, 11.27, 11.02, 12.42,
    12.26, 13.01, 11.18, 12.26, 12.14, 11.84]

TYPICAL = [CST5_TYPICAL, CD40_TYPICAL, FGF21_TYPICAL, IL6_TYPICAL, IL8_TYPICAL,
           STAMBP_TYPICAL, PDL1_TYPICAL, ADA_TYPICAL, TNFRSF9_TYPICAL, OPG_TYPICAL]
NO_TYPICAL = [CST5_NO_TYPICAL, CD40_NO_TYPICAL, FGF21_NO_TYPICAL, IL6_NO_TYPICAL, IL8_NO_TYPICAL,
              STAMBP_NO_TYPICAL, PDL1_NO_TYPICAL, ADA_NO_TYPICAL, TNFRSF9_NO_TYPICAL, OPG_NO_TYPICAL]

# ---- box summaries ----
TYP_Q1 = [5.94, 11.6, 6.38, 4.95, 5.23, 4.7, 6.25, 6.23, 6.35, 10.88]
TYP_MEDIAN = [6.36, 11.9, 7.39, 5.56, 6.08, 5.0, 6.49, 6.44, 6.67, 11.14]
TYP_Q3 = [6.64, 12.17, 8.4, 6.47, 6.64, 5.45, 6.74, 6.71, 7.02, 11.45]
TYP_LOW = [4.99, 10.8, 3.74, 3.42, 4.02, 3.76, 5.53, 5.62, 5.34, 10.02]
TYP_HIGH = [7.71, 13.0, 11.1, 8.7, 8.75, 6.55, 7.5, 7.41, 8.11, 12.37]
NTYP_Q1 = [6.41, 11.98, 7.25, 5.88, 6.08, 5.04, 6.55, 6.44, 6.71, 11.25]
NTYP_MEDIAN = [6.91, 12.25, 8.69, 6.68, 6.76, 5.4, 6.83, 6.75, 7.13, 11.74]
NTYP_Q3 = [7.66, 13.0, 10.02, 8.91, 7.87, 6.16, 7.29, 7.13, 7.84, 12.18]
NTYP_LOW = [5.48, 11.3, 4.76, 3.88, 4.53, 4.4, 6.08, 5.73, 5.78, 10.02]
NTYP_HIGH = [9.09, 14.35, 11.9, 10.57, 10.1, 7.51, 8.13, 7.84, 9.14, 12.94]

# ---- axes ----
Y_RANGES = [(-0.51, 10.23), (-0.72, 15.05), (-0.54, 13.55), (-0.53, 11.9), (-0.65, 13.35),
            (-0.56, 11.37), (-0.42, 9.33), (-0.52, 11.63), (-0.5, 11.3), (-0.6, 13.7)]
Y_DTICK = [2.5, 5, 5, 3, 5, 3, 2.5, 3, 3, 5]
Y_FORMAT = [".1f", "d", "d", "d", "d", "d", ".1f", "d", "d", "d"]
P_LABEL_Y = 2
# an off-axis (clipped, never visible) helper value per box, so that plotly's
# density-scaled jitter spreads every point evenly like ggplot's geom_jitter
JITTER_HELPER = -1000

W, H = 939, 1485
ROW_TOP = [37, 333, 633, 932, 1231]
ROW_BOT = [270, 568, 868, 1166, 1464]
COL_X = [(45, 478), (513, 939)]
X_RANGES = [(-0.6, 1.6), (-0.605, 1.559)]
TITLE_X = [43, 513]
YTITLE_X = [15, 493]
FONT = "Liberation Sans, Arial, Helvetica, sans-serif"
POINT_COLOR = "rgba(0,92,204,0.6)"
BOX_LINE = "#333333"

fig = go.Figure()
layout_axes = {}
annotations = []

for i, name in enumerate(MARKERS):
    r, c = divmod(i, 2)
    suffix = "" if i == 0 else str(i + 1)
    xref, yref = "x" + suffix, "y" + suffix
    typ, ntyp = TYPICAL[i], NO_TYPICAL[i]

    # jittered observations
    fig.add_trace(go.Box(
        x=[CATS[0]] * (len(typ) + 1) + [CATS[1]] * (len(ntyp) + 1),
        y=typ + [JITTER_HELPER] + ntyp + [JITTER_HELPER],
        xaxis=xref, yaxis=yref, boxpoints="all", jitter=1, pointpos=0, width=0.82,
        fillcolor="rgba(0,0,0,0)", line=dict(width=0, color="rgba(0,0,0,0)"),
        marker=dict(color=POINT_COLOR, size=9, line=dict(width=0)),
        showlegend=False, hoverinfo="skip"))

    # box and whiskers on top (semi-transparent white fill)
    fig.add_trace(go.Box(
        x=CATS, q1=[TYP_Q1[i], NTYP_Q1[i]], median=[TYP_MEDIAN[i], NTYP_MEDIAN[i]],
        q3=[TYP_Q3[i], NTYP_Q3[i]], lowerfence=[TYP_LOW[i], NTYP_LOW[i]],
        upperfence=[TYP_HIGH[i], NTYP_HIGH[i]],
        xaxis=xref, yaxis=yref, width=0.75, whiskerwidth=0, boxpoints=False,
        fillcolor="rgba(255,255,255,0.5)", line=dict(color=BOX_LINE, width=1.3),
        showlegend=False, hoverinfo="skip"))

    # thicker median bar (ggplot draws the median line heavier)
    med = [TYP_MEDIAN[i], NTYP_MEDIAN[i]]
    fig.add_trace(go.Box(
        x=CATS, q1=med, median=med, q3=med, lowerfence=med, upperfence=med,
        xaxis=xref, yaxis=yref, width=0.75, whiskerwidth=0, boxpoints=False,
        fillcolor="rgba(0,0,0,0)", line=dict(color=BOX_LINE, width=2.3),
        showlegend=False, hoverinfo="skip"))

    x0, x1 = COL_X[c]
    y_dom = [1 - ROW_BOT[r] / H, 1 - ROW_TOP[r] / H]
    layout_axes["xaxis" + suffix] = dict(
        domain=[x0 / W, x1 / W], anchor=yref, type="category",
        categoryorder="array", categoryarray=CATS, range=list(X_RANGES[c]),
        showgrid=True, gridcolor="#EBEBEB", gridwidth=1, zeroline=False, showline=False,
        ticks="", tickfont=dict(size=13, color="#4D4D4D", family=FONT))
    layout_axes["yaxis" + suffix] = dict(
        domain=y_dom, anchor=xref, range=list(Y_RANGES[i]), tick0=0, dtick=Y_DTICK[i],
        tickformat=Y_FORMAT[i], showgrid=True, gridcolor="#EBEBEB", gridwidth=1,
        zeroline=False, showline=False, ticks="",
        tickfont=dict(size=8, color="#7A7A7A", family=FONT),
        minor=dict(tick0=0, dtick=Y_DTICK[i] / 2, showgrid=True, gridcolor="#F4F4F4", gridwidth=1))

    annotations.append(dict(
        text=name, xref="paper", yref="paper", x=TITLE_X[c] / W,
        y=1 - (ROW_TOP[r] - 21) / H, xanchor="left", yanchor="middle", showarrow=False,
        font=dict(size=20, color="#000000", family=FONT)))
    annotations.append(dict(
        text=name, xref="paper", yref="paper", x=YTITLE_X[c] / W,
        y=1 - (ROW_TOP[r] + ROW_BOT[r]) / 2 / H, xanchor="center", yanchor="middle",
        textangle=-90, showarrow=False, font=dict(size=10, color="#222222", family=FONT)))
    annotations.append(dict(
        text=P_VALUES[i], xref=xref, yref=yref, x=0.5, y=P_LABEL_Y, xanchor="center",
        yanchor="middle", showarrow=False, font=dict(size=10, color="#000000", family=FONT)))

annotations.append(dict(
    text="ARTICLE IN PRESS", xref="paper", yref="paper", x=571 / W, y=1 - 998 / H,
    xanchor="center", yanchor="middle", textangle=-35, showarrow=False,
    font=dict(size=84, color="rgba(200,200,200,0.72)", family=FONT)))

fig.update_layout(
    width=W, height=H, autosize=False, margin=dict(l=0, r=0, t=0, b=0),
    paper_bgcolor="white", plot_bgcolor="white", boxmode="overlay",
    font=dict(family=FONT), annotations=annotations, showlegend=False, **layout_axes)

fig.write_html("out.html", config={"displayModeBar": False},
               post_script="document.body.style.margin='0';document.body.style.overflow='hidden';")
